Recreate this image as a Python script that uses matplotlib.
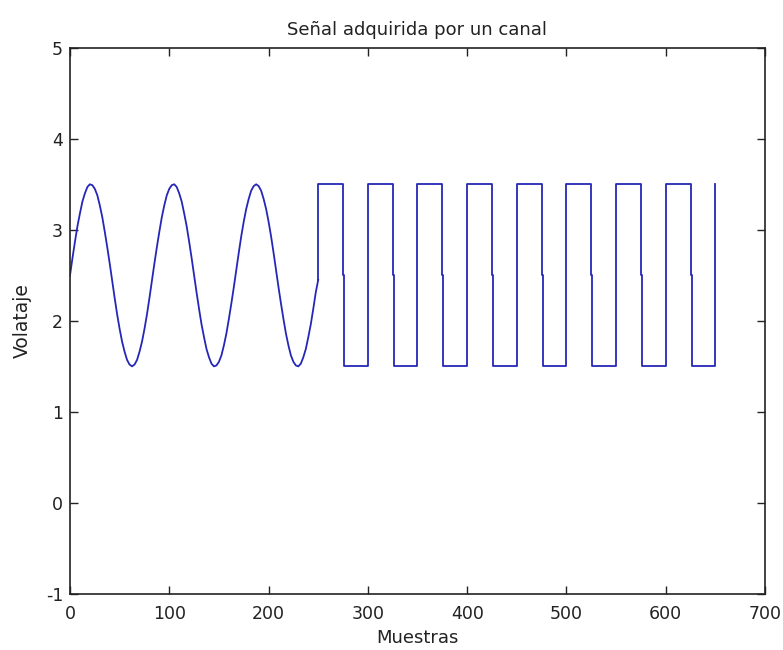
import matplotlib
matplotlib.use("Agg")
import matplotlib.pyplot as plt

sine_x = [0, 2.5, 5, 7.5, 10, 12.5, 15, 17.5, 20, 22.5, 25, 27.5, 30, 32.5, 35,
          37.5, 40, 42.5, 45, 47.5, 50, 52.5, 55, 57.5, 60, 62.5, 65, 67.5, 70,
          72.5, 75, 77.5, 80, 82.5, 85, 87.5, 90, 92.5, 95, 97.5, 100, 102.5,
          105, 107.5, 110, 112.5, 115, 117.5, 120, 122.5, 125, 127.5, 130,
          132.5, 135, 137.5, 140, 142.5, 145, 147.5, 150, 152.5, 155, 157.5,
          160, 162.5, 165, 167.5, 170, 172.5, 175, 177.5, 180, 182.5, 185,
          187.5, 190, 192.5, 195, 197.5, 200, 202.5, 205, 207.5, 210, 212.5,
          215, 217.5, 220, 222.5, 225, 227.5, 230, 232.5, 235, 237.5, 240,
          242.5, 245, 247.5, 250]
sine_y = [2.50, 2.69, 2.87, 3.04, 3.18, 3.31, 3.40, 3.47, 3.50, 3.49, 3.45,
          3.38, 3.27, 3.14, 2.98, 2.81, 2.63, 2.44, 2.25, 2.07, 1.91, 1.77,
          1.66, 1.57, 1.52, 1.50, 1.52, 1.57, 1.66, 1.77, 1.91, 2.07, 2.25,
          2.44, 2.63, 2.81, 2.98, 3.14, 3.27, 3.38, 3.45, 3.49, 3.50, 3.47,
          3.40, 3.31, 3.18, 3.04, 2.87, 2.69, 2.50, 2.31, 2.13, 1.96, 1.82,
          1.69, 1.60, 1.53, 1.50, 1.51, 1.55, 1.62, 1.73, 1.86, 2.02, 2.19,
          2.37, 2.56, 2.75, 2.93, 3.09, 3.23, 3.34, 3.43, 3.48, 3.50, 3.48,
          3.43, 3.34, 3.23, 3.09, 2.93, 2.75, 2.56, 2.37, 2.19, 2.02, 1.86,
          1.73, 1.62, 1.55, 1.51, 1.50, 1.53, 1.60, 1.69, 1.82, 1.96, 2.13,
          2.31, 2.45]

# square part (step samples, falling edges pass through 2.5)
square_x = [250, 250, 275, 276, 300, 325, 326, 350, 375, 376, 400, 425, 426,
            450, 475, 476, 500, 525, 526, 550, 575, 576, 600, 625, 626, 650]
square_y = [2.45, 3.5, 2.5, 1.5, 3.5, 2.5, 1.5, 3.5, 2.5, 1.5, 3.5, 2.5, 1.5,
            3.5, 2.5, 1.5, 3.5, 2.5, 1.5, 3.5, 2.5, 1.5, 3.5, 2.5, 1.5, 3.5]

x_ticks = [0, 100, 200, 300, 400, 500, 600, 700]
y_ticks = [-1, 0, 1, 2, 3, 4, 5]

plt.rcParams['font.family'] = ['DejaVu Sans']
plt.rcParams['axes.unicode_minus'] = False
fig = plt.figure(figsize=(7.83, 6.5), dpi=100)
ax = fig.add_axes([0.0894, 0.0862, 0.8876, 0.8404])

line_color = '#2626b8'
ax.plot(sine_x, sine_y, color=line_color, linewidth=1.3)
ax.plot(square_x, square_y, color=line_color, linewidth=1.3, drawstyle='steps-post')

ax.set_xlim(0, 700)
ax.set_ylim(-1, 5)
ax.set_xticks(x_ticks)
ax.set_yticks(y_ticks)
ax.tick_params(direction='in', length=6, width=1, top=True, right=True,
               labelsize=12.5, colors='#222222')
ax.tick_params(axis='x', pad=8)
ax.tick_params(axis='y', pad=5)
for s in ax.spines.values():
    s.set_linewidth(1.2)
    s.set_color('#222222')

ax.set_title('Señal adquirida por un canal', fontsize=13, pad=9, color='#222222')
ax.set_xlabel('Muestras', fontsize=13, labelpad=4, color='#222222')
ax.set_ylabel('Volataje', fontsize=13.5, labelpad=10, color='#222222')

fig.savefig('out.png', dpi=100)
